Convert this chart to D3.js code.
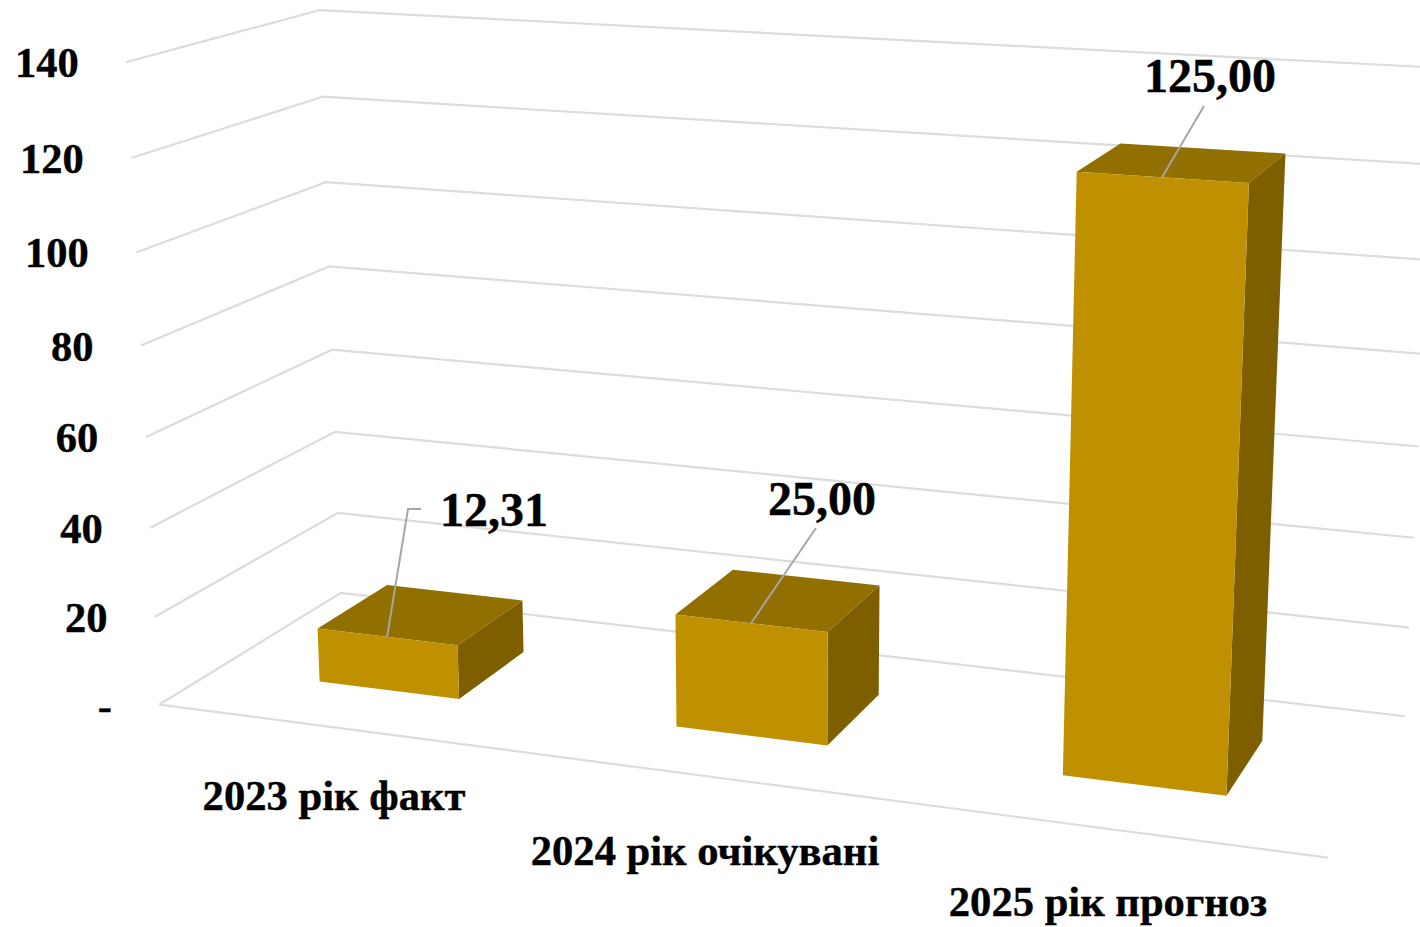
<!DOCTYPE html>
<html>
<head>
<meta charset="utf-8">
<script src="https://d3js.org/d3.v7.min.js"></script>
<style>
  html, body { margin: 0; padding: 0; background: #fff; overflow: hidden; }
  text { font-family: "Liberation Serif", serif; font-weight: bold; fill: #000; stroke: #000; stroke-width: 0.4; }
</style>
</head>
<body>
<div id="chart"></div>
<script>
var categories = ["2023 рік факт", "2024 рік очікувані", "2025 рік прогноз"];
var values = [12.31, 25, 125];
var valueLabels = ["12,31", "25,00", "125,00"];
var ticks = [0, 20, 40, 60, 80, 100, 120, 140];

var width = 1420, height = 927;

// scales in "world" units, the camera below turns them into pixels
var xBand = d3.scaleBand().domain(categories).range([0, 1]).paddingInner(0.6).paddingOuter(0.3);
var yDepth = d3.scaleLinear().domain([0, 1]).range([0.3, 0.7]);
var zValue = d3.scaleLinear().domain([0, 140]).range([0, 1]);

// where the chart box corners sit in the picture: [x, y, tick, pixelX, pixelY]
var box = [
  [0, 0, 0, 160, 705], [0, 0, 20, 155, 616], [0, 0, 40, 150, 528], [0, 0, 60, 145, 438],
  [0, 0, 80, 141, 346], [0, 0, 100, 136, 252], [0, 0, 120, 131, 158], [0, 0, 140, 127, 62],
  [0, 1, 0, 341, 592], [0, 1, 20, 338, 513], [0, 1, 40, 335, 432], [0, 1, 60, 332, 350],
  [0, 1, 80, 329, 266], [0, 1, 100, 326, 182], [0, 1, 120, 323, 97], [0, 1, 140, 320, 10],
  [1, 1, 0, 1405, 717], [1, 1, 20, 1409, 628], [1, 1, 80, 1423, 353], [1, 1, 140, 1438, 68],
  [1, 0, 0, 1328, 857]
];

// fit a projective camera to the box, least squares
function solve(A, b) {
  var n = b.length;
  for (var i = 0; i < n; i++) {
    var p = i;
    for (var r = i + 1; r < n; r++) if (Math.abs(A[r][i]) > Math.abs(A[p][i])) p = r;
    var t = A[i]; A[i] = A[p]; A[p] = t;
    t = b[i]; b[i] = b[p]; b[p] = t;
    for (r = i + 1; r < n; r++) {
      var f = A[r][i] / A[i][i];
      for (var c = i; c < n; c++) A[r][c] -= f * A[i][c];
      b[r] -= f * b[i];
    }
  }
  var out = new Array(n);
  for (i = n - 1; i >= 0; i--) {
    var s = b[i];
    for (c = i + 1; c < n; c++) s -= A[i][c] * out[c];
    out[i] = s / A[i][i];
  }
  return out;
}

function fitCamera() {
  var rows = [], rhs = [];
  box.forEach(function(d) {
    var X = d[0], Y = d[1], Z = zValue(d[2]), u = d[3] / 1000, v = d[4] / 1000;
    rows.push([X, Y, Z, 1, 0, 0, 0, 0, -u * X, -u * Y, -u * Z]); rhs.push(u);
    rows.push([0, 0, 0, 0, X, Y, Z, 1, -v * X, -v * Y, -v * Z]); rhs.push(v);
  });
  var AtA = d3.range(11).map(function(i) {
    return d3.range(11).map(function(j) { return d3.sum(rows, function(r) { return r[i] * r[j]; }); });
  });
  var Atb = d3.range(11).map(function(i) {
    return d3.sum(rows, function(r, k) { return r[i] * rhs[k]; });
  });
  return solve(AtA, Atb);
}

var cam = fitCamera();

function project(X, Y, val) {
  var Z = zValue(val);
  var w = cam[8] * X + cam[9] * Y + cam[10] * Z + 1;
  return [1000 * (cam[0] * X + cam[1] * Y + cam[2] * Z + cam[3]) / w,
          1000 * (cam[4] * X + cam[5] * Y + cam[6] * Z + cam[7]) / w];
}

var line = d3.line();

var svg = d3.select("#chart").append("svg")
    .attr("width", width)
    .attr("height", height);

// gridlines: side wall then back wall
svg.append("g").selectAll("path")
    .data(ticks)
  .enter().append("path")
    .attr("d", function(t) { return line([project(0, 0, t), project(0, 1, t), project(1, 1, t)]); })
    .attr("fill", "none")
    .attr("stroke", "#dcdcdc")
    .attr("stroke-width", 2.2);

// front edge of the floor
svg.append("path")
    .attr("d", line([project(0, 0, 0), project(1, 0, 0)]))
    .attr("fill", "none")
    .attr("stroke", "#dcdcdc")
    .attr("stroke-width", 2.2);

// value axis labels
svg.append("g").selectAll("text")
    .data(ticks)
  .enter().append("text")
    .attr("x", function(t) { return project(0, 0, t)[0] - 47.5; })
    .attr("y", function(t) { return project(0, 0, t)[1] + 15; })
    .attr("text-anchor", "end")
    .attr("font-size", 42.5)
    .text(function(t) { return t === 0 ? "-" : t; });

// bars, far faces are hidden so only three faces are needed
var bars = svg.append("g").selectAll("g")
    .data(values)
  .enter().append("g");

function barX0(i) { return xBand(categories[i]); }
function barX1(i) { return barX0(i) + xBand.bandwidth(); }

bars.append("path") // top
    .attr("fill", "#927000")
    .attr("d", function(v, i) {
      return line([project(barX0(i), yDepth(0), v), project(barX1(i), yDepth(0), v),
                   project(barX1(i), yDepth(1), v), project(barX0(i), yDepth(1), v)]) + "Z";
    });
bars.append("path") // side
    .attr("fill", "#7d5f00")
    .attr("d", function(v, i) {
      return line([project(barX1(i), yDepth(0), 0), project(barX1(i), yDepth(1), 0),
                   project(barX1(i), yDepth(1), v), project(barX1(i), yDepth(0), v)]) + "Z";
    });
bars.append("path") // front
    .attr("fill", "#bf9000")
    .attr("d", function(v, i) {
      return line([project(barX0(i), yDepth(0), 0), project(barX1(i), yDepth(0), 0),
                   project(barX1(i), yDepth(0), v), project(barX0(i), yDepth(0), v)]) + "Z";
    });

// leader lines start at the middle of the bar's front top edge
var leaderEnds = [[[408, 509], [421, 509]], [[816, 528]], [[1204, 106]]];
svg.append("g").selectAll("path")
    .data(values)
  .enter().append("path")
    .attr("d", function(v, i) {
      var start = project(barX0(i) + xBand.bandwidth() / 2, yDepth(0), v);
      return line([start].concat(leaderEnds[i]));
    })
    .attr("fill", "none")
    .attr("stroke", "#a6a6a6")
    .attr("stroke-width", 2);

// data labels
var labelPos = [[494, 526], [822, 515], [1210, 92]];
svg.append("g").selectAll("text")
    .data(valueLabels)
  .enter().append("text")
    .attr("x", function(d, i) { return labelPos[i][0]; })
    .attr("y", function(d, i) { return labelPos[i][1]; })
    .attr("text-anchor", "middle")
    .attr("font-size", 48)
    .text(function(d) { return d; });

// category labels
var catPos = [[334, 810], [705, 865], [1108, 916]];
svg.append("g").selectAll("text")
    .data(categories)
  .enter().append("text")
    .attr("x", function(d, i) { return catPos[i][0]; })
    .attr("y", function(d, i) { return catPos[i][1]; })
    .attr("text-anchor", "middle")
    .attr("font-size", 42.6)
    .text(function(d) { return d; });
</script>
</body>
</html>
